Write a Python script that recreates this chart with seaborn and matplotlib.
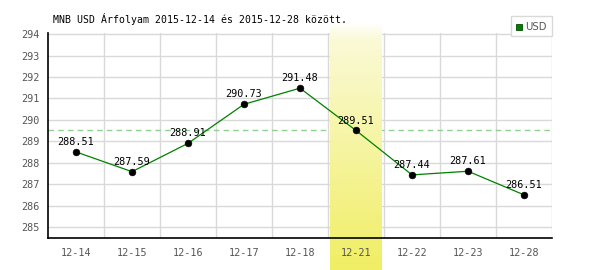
import matplotlib
matplotlib.use("Agg")
import matplotlib.pyplot as plt
import matplotlib.transforms as mtransforms
from matplotlib.patches import Rectangle
import numpy as np
import pandas as pd
import seaborn as sns

# ---- data ----
dates = ["12-14", "12-15", "12-16", "12-17", "12-18", "12-21", "12-22", "12-23", "12-28"]
rates = [288.51, 287.59, 288.91, 290.73, 291.48, 289.51, 287.44, 287.61, 286.51]
ref_level = 289.55
highlight_date = "12-21"
y_ticks = [285, 286, 287, 288, 289, 290, 291, 292, 293, 294]
title = "MNB USD Árfolyam 2015-12-14 és 2015-12-28 között."
series_name = "USD"

df = pd.DataFrame({"pos": np.arange(len(dates)), "date": dates, "rate": rates})

sns.set_theme(style="white")
plt.rcParams["font.family"] = ["DejaVu Sans Mono", "DejaVu Sans"]

fig = plt.figure(figsize=(6, 2.7), dpi=100)
ax = fig.add_axes([48/600, 1 - 238/270, 504/600, 205/270])
ax.set_facecolor("none")
ax.set_axisbelow(False)

# grid
for yv in y_ticks:
    ax.axhline(yv, color="#d9d9d9", lw=1.0, zorder=1)
for i in range(len(dates)):
    ax.axvline(i + 0.5, color="#d9d9d9", lw=1.0, zorder=1)

ax.axhline(ref_level, color="#8fd18f", lw=1.0, ls=(0, (4, 3)), zorder=1.5)

# highlight band with vertical gradient, extending below axis
hi = dates.index(highlight_date)
trans = mtransforms.blended_transform_factory(ax.transData, fig.transFigure)
c_top = np.array([1.0, 1.0, 1.0])
c_mid = np.array([0xfa, 0xf9, 0xd6]) / 255
c_bot = np.array([0xf0, 0xee, 0x64]) / 255
y0f, y1f = 0.0, 1 - 21/270
N = 120
for k in range(N):
    t = k / (N - 1)  # 0 bottom -> 1 top
    if t > 0.93:
        c = c_mid + (c_top - c_mid) * (t - 0.93) / 0.07
    else:
        c = c_bot + (c_mid - c_bot) * (t / 0.93)
    ya = y0f + (y1f - y0f) * k / N
    h = (y1f - y0f) / N * 1.05
    ax.add_patch(Rectangle((hi - 0.47, ya), 0.94, h, transform=trans,
                           facecolor=c, edgecolor="none", zorder=2,
                           clip_on=False))

sns.lineplot(data=df, x="pos", y="rate", ax=ax, color="#008000", lw=0.9,
             zorder=3, legend=False)
sns.scatterplot(data=df, x="pos", y="rate", ax=ax, color="black", s=24,
                edgecolor="black", zorder=4, legend=False)

for p, r in zip(df["pos"], df["rate"]):
    ax.annotate(f"{r:.2f}", (p, r), xytext=(0, 3.5), textcoords="offset points",
                ha="center", va="bottom", fontsize=7.3, color="black", zorder=5)

ax.set_xlim(-0.5, len(dates) - 0.5)
ax.set_ylim(284.5, 294.05)
ax.set_xticks(df["pos"])
ax.set_xticklabels(dates)
ax.set_yticks(y_ticks)
ax.set_xlabel("")
ax.set_ylabel("")
ax.tick_params(axis="both", length=0, labelsize=7.3, colors="#555555", pad=6)
ax.tick_params(axis="x", pad=7)
ax.xaxis.set_zorder(6)
ax.yaxis.set_zorder(6)
for s in ["top", "right"]:
    ax.spines[s].set_visible(False)
for s in ["left", "bottom"]:
    ax.spines[s].set_color("black")
    ax.spines[s].set_linewidth(1.2)
    ax.spines[s].set_zorder(6)

fig.text(53/600, 1 - 19/270, title, fontsize=7.1, color="black", va="center", ha="left")

# legend box
lx0, lx1, ly0, ly1 = 511, 552, 16, 36
fig.patches.append(Rectangle((lx0/600, 1 - ly1/270), (lx1-lx0)/600, (ly1-ly0)/270,
                             transform=fig.transFigure, facecolor="white",
                             edgecolor="#d9d9d9", lw=1.0, zorder=5))
fig.patches.append(Rectangle((516/600, 1 - 30/270), 6/600, 6/270,
                             transform=fig.transFigure, facecolor="#008000",
                             edgecolor="#004d00", lw=0.6, zorder=6))
fig.text(525/600, 1 - 26.5/270, series_name, fontsize=7.3, color="#555555",
         va="center", ha="left", family=["DejaVu Sans"], zorder=7)

fig.savefig("out.png", dpi=100, facecolor="white")
